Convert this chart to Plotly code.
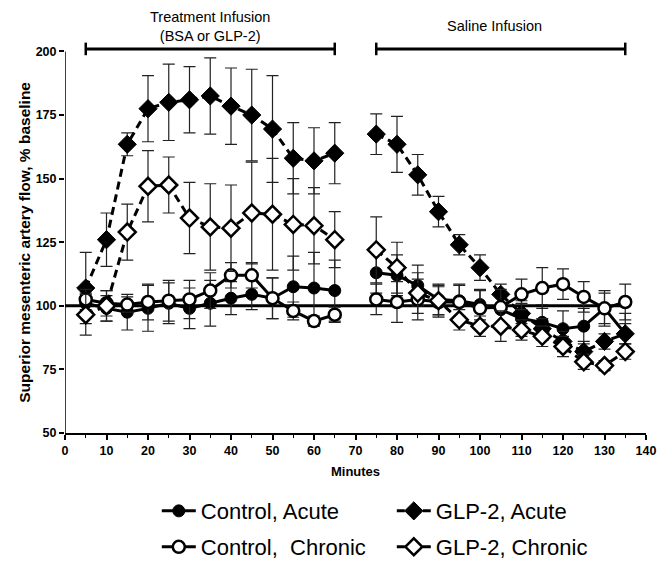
import plotly.graph_objects as go

# ---- data -------------------------------------------------------------
minutes_treat = [5, 10, 15, 20, 25, 30, 35, 40, 45, 50, 55, 60, 65]
minutes_saline = [75, 80, 85, 90, 95, 100, 105, 110, 115, 120, 125, 130, 135]

ctrl_acute_treat = [101, 99, 97.5, 99, 101, 99, 101, 103, 104.5, 103, 107.5, 107, 106]
ctrl_acute_treat_err = [4, 5, 7, 9, 8, 8, 9, 6.5, 6, 8, 12, 14, 12]
ctrl_acute_sal = [113, 112, 108, 102.5, 102, 100.5, 98.5, 95, 93.5, 91, 92, 99, 89]
ctrl_acute_sal_err = [8, 8, 8, 6, 6, 6, 6, 7, 7, 7, 7, 7, 8]

ctrl_chron_treat = [102.5, 101, 100.5, 101.5, 102, 102.5, 106, 112, 112, 103, 98, 94, 96.5]
ctrl_chron_treat_err = [4, 5, 3, 7, 8, 7.5, 7, 5, 5, 8, 3.5, 2, 3]
ctrl_chron_sal = [102.5, 101.5, 102.5, 101.5, 101.5, 99, 99.5, 104.5, 107, 108.5, 103.5, 99, 101.5]
ctrl_chron_sal_err = [6, 8, 8, 6, 7, 7, 7, 6, 8, 6, 6, 6, 7]

glp_acute_treat = [107, 126, 163.5, 177.5, 180, 181, 182.5, 178.5, 175, 169.5, 158, 157, 160]
glp_acute_treat_err = [14, 10.5, 4.5, 13, 15, 13, 15, 15, 18, 21, 14, 13, 12]
glp_acute_sal = [167.5, 163.5, 151.5, 137, 124, 115, 104.5, 97, 91, 86, 82, 86, 89]
glp_acute_sal_err = [8, 11, 8, 6, 4, 5, 4, 4, 4, 4, 4, 3, 4]

glp_chron_treat = [96.5, 100, 129, 147, 147.5, 134.5, 131, 130.5, 136.5, 136, 132, 131.5, 126]
glp_chron_treat_err = [8, 6, 11, 14, 11, 14, 17, 17, 20, 22, 18, 15, 11]
glp_chron_sal = [122, 115, 105, 102, 94.5, 92, 92, 90.5, 88, 84, 78, 76.5, 82]
glp_chron_sal_err = [13, 10, 8, 6, 4, 4, 6, 4, 4, 4, 3, 2, 3]

infusion_periods = [(5, 65), (75, 135)]
infusion_labels = ["Treatment Infusion<br>(BSA or GLP-2)", "Saline Infusion"]
baseline = 100
x_ticks = list(range(0, 141, 10))
y_ticks = [50, 75, 100, 125, 150, 175, 200]

FONT = "Liberation Sans, Arial, sans-serif"

# ---- figure -----------------------------------------------------------
fig = go.Figure()

x_all = minutes_treat + [None] + minutes_saline


def join(a, b):
    return a + [None] + b


series = [
    ("Control, Acute", ctrl_acute_treat, ctrl_acute_sal, ctrl_acute_treat_err, ctrl_acute_sal_err,
     "circle", "black", "solid", 12, "legend"),
    ("GLP-2, Acute", glp_acute_treat, glp_acute_sal, glp_acute_treat_err, glp_acute_sal_err,
     "diamond", "black", "8px,5px", 14, "legend"),
    ("Control,\u00a0 Chronic", ctrl_chron_treat, ctrl_chron_sal, ctrl_chron_treat_err, ctrl_chron_sal_err,
     "circle", "white", "solid", 12, "legend2"),
    ("GLP-2, Chronic", glp_chron_treat, glp_chron_sal, glp_chron_treat_err, glp_chron_sal_err,
     "diamond", "white", "8px,5px", 13, "legend2"),
]

# infusion bars (top)
for (a, b) in infusion_periods:
    fig.add_trace(go.Scatter(
        x=[a, b], y=[201, 201], mode="lines+markers", showlegend=False,
        line=dict(color="black", width=3),
        marker=dict(symbol="line-ns", size=9, line=dict(color="black", width=2.5)),
        cliponaxis=False, hoverinfo="skip"))

# baseline reference line
fig.add_trace(go.Scatter(
    x=[0, 135], y=[baseline, baseline], mode="lines", showlegend=False,
    line=dict(color="black", width=3), hoverinfo="skip"))

for name, tr, sa, te, se, sym, fill, dash, size, leg in series:
    fig.add_trace(go.Scatter(
        x=x_all, y=join(tr, sa), name=name, mode="lines+markers", legend=leg,
        line=dict(color="black", width=3, dash=dash),
        marker=dict(symbol=sym, size=size, color=fill,
                    line=dict(color="black", width=2.5 if fill == "white" else 1)),
        error_y=dict(type="data", array=join(te, se), color="#222222",
                     thickness=1.2, width=6),
        connectgaps=False, cliponaxis=False))

annotations = []
label_pos = [(0, 209.8), (-1.5, 210.1)]
for (a, b), lab, (dx, yy) in zip(infusion_periods, infusion_labels, label_pos):
    annotations.append(dict(x=(a + b) / 2 + dx, y=yy, xref="x", yref="y",
                            text=lab, showarrow=False,
                            font=dict(family=FONT, size=14.5, color="black")))

# y-axis title
annotations.append(dict(x=-0.071, y=0.4515, xref="paper", yref="paper",
                        xanchor="center", yanchor="middle",
                        text="Superior mesenteric artery flow, % baseline",
                        textangle=-90, showarrow=False,
                        font=dict(family=FONT, size=15.5, color="black", weight="bold")))

shapes = [dict(type="line", xref="x", yref="y", x0=0, x1=0, y0=50, y1=200,
               line=dict(color="black", width=1.5))]

legend_common = dict(orientation="h", x=0.158, xanchor="left", yanchor="middle",
                     yref="container",
                     entrywidth=186, entrywidthmode="pixels",
                     font=dict(family=FONT, size=22, color="black"), itemwidth=34)

fig.update_layout(
    width=664, height=561,
    margin=dict(l=65, r=18, t=10, b=128, autoexpand=False),
    plot_bgcolor="white", paper_bgcolor="white",
    font=dict(family=FONT, color="black"),
    xaxis=dict(range=[0, 140], tickvals=x_ticks, showline=True, linecolor="black",
               linewidth=1.5, ticks="outside", ticklen=5, tickwidth=1.5,
               tickcolor="black", showgrid=False, zeroline=False,
               tickfont=dict(family=FONT, size=12.5, weight="bold"),
               minor=dict(dtick=5, tick0=0, ticks="outside", ticklen=3,
                          tickwidth=1.2, tickcolor="black", showgrid=False),
               title=dict(text="Minutes", standoff=10,
                          font=dict(family=FONT, size=13, weight="bold"))),
    yaxis=dict(range=[50, 216.3], tickvals=y_ticks, showline=False,
               ticks="outside", ticklen=5, tickwidth=1.5, tickcolor="black",
               showgrid=False, zeroline=False,
               tickfont=dict(family=FONT, size=12.5, weight="bold")),
    legend=dict(y=0.089, **legend_common),
    legend2=dict(y=0.025, **legend_common),
    annotations=annotations,
    shapes=shapes,
)

fig.write_html("out.html")
